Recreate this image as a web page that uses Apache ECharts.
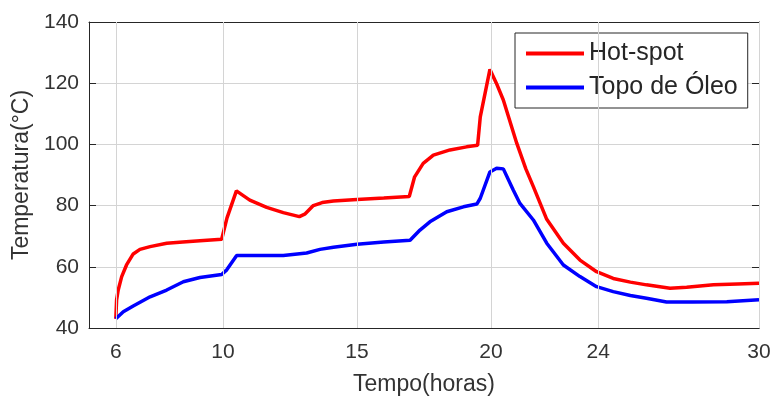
<!DOCTYPE html>
<html>
<head>
<meta charset="utf-8">
<script src="https://cdn.jsdelivr.net/npm/echarts@6/dist/echarts.min.js"></script>
<style>
  html, body { margin: 0; padding: 0; background: #fff; }
  #chart { width: 772px; height: 396px; }
</style>
</head>
<body>
<div id="chart"></div>
<script>
// Hot-spot temperature (°C) against time of day (hours)
const hotSpotHours = [6.0, 6.03, 6.09, 6.22, 6.4, 6.65, 6.9, 7.28, 7.9, 8.5, 9.14, 9.95, 10.15, 10.5,
  11.0, 11.63, 12.25, 12.85, 13.05, 13.37, 13.7, 14.12, 15.0, 16.0, 16.95, 17.15, 17.47, 17.85,
  18.47, 19.09, 19.5, 19.6, 19.96, 20.2, 20.46, 20.96, 21.3, 21.58, 22.08, 22.7, 23.32, 23.94,
  24.56, 25.2, 25.8, 26.68, 27.3, 28.3, 29.2, 30.0];
const hotSpotTemp = [43, 49.2, 52.4, 56.8, 60.6, 64.2, 65.7, 66.6, 67.7, 68.1, 68.5, 69.0, 76, 84.8,
  81.8, 79.4, 77.7, 76.4, 77.2, 80.0, 81.0, 81.5, 82.0, 82.5, 83.0, 89.4, 93.8, 96.5,
  98.2, 99.2, 99.7, 109, 124.5, 120, 114.5, 100.4, 92, 86.2, 75.5, 67.7, 62.2, 58.4,
  56.2, 55.0, 54.1, 53.0, 53.3, 54.1, 54.4, 54.6];

// Top-oil temperature (°C) against time of day (hours)
const oilHours = [6.0, 6.28, 6.65, 7.28, 7.9, 8.52, 9.14, 9.95, 10.14, 10.51, 12.25, 13.12, 13.62,
  14.12, 15.0, 16.0, 16.98, 17.35, 17.72, 18.35, 18.97, 19.47, 19.6, 19.96, 20.21, 20.46, 20.83,
  21.08, 21.58, 22.08, 22.7, 23.32, 23.94, 24.56, 25.2, 25.8, 26.55, 27.5, 28.8, 30.0];
const oilTemp = [43, 45.3, 47.2, 50.2, 52.4, 55.1, 56.5, 57.5, 59, 63.7, 63.7, 64.5, 65.7,
  66.4, 67.4, 68.1, 68.7, 72, 74.7, 78, 79.6, 80.5, 82.4, 91, 92.2, 92, 85.1,
  80.7, 75.3, 67.7, 60.6, 56.8, 53.5, 51.9, 50.6, 49.7, 48.5, 48.5, 48.6, 49.2];

// Axis ticks
const hourTicks = [6, 10, 15, 20, 24, 30];
const seriesNames = ['Hot-spot', 'Topo de Óleo'];

const FONT = '"Liberation Sans", Arial, Helvetica, sans-serif';
const TEXT = '#333333';
const AXIS = '#262626';
const GRID = '#d4d4d4';

const zip = (xs, ys) => xs.map((x, i) => [x, ys[i]]);

const chart = echarts.init(document.getElementById('chart'), null, { renderer: 'canvas' });

chart.setOption({
  animation: false,
  backgroundColor: '#ffffff',
  grid: { left: 89, top: 22, right: 13, bottom: 68, containLabel: false, outerBoundsMode: 'none' },
  legend: {
    data: seriesNames.map(n => ({ name: n, icon: 'rect' })),
    orient: 'vertical',
    left: 515,
    top: 33,
    padding: [8, 10, 8, 11],
    itemGap: 9,
    itemWidth: 58,
    itemHeight: 4,
    backgroundColor: '#ffffff',
    borderColor: AXIS,
    borderWidth: 1,
    textStyle: { fontFamily: FONT, fontSize: 25, color: '#262626', lineHeight: 25 }
  },
  xAxis: [
    {
      type: 'value',
      min: 5, max: 30,
      position: 'bottom',
      name: 'Tempo(horas)',
      nameLocation: 'middle',
      nameGap: 45,
      nameTextStyle: { fontFamily: FONT, fontSize: 23, color: TEXT },
      axisLine: { show: true, lineStyle: { color: AXIS, width: 1 } },
      axisTick: { show: true, inside: true, length: 7, customValues: hourTicks, lineStyle: { color: AXIS } },
      axisLabel: { customValues: hourTicks, fontFamily: FONT, fontSize: 21, color: TEXT, margin: 14 },
      splitLine: { show: false }
    },
    {
      type: 'value',
      min: 5, max: 30,
      position: 'top',
      axisLine: { show: true, onZero: false, lineStyle: { color: AXIS, width: 1 } },
      axisTick: { show: true, inside: true, length: 7, customValues: hourTicks, lineStyle: { color: AXIS } },
      axisLabel: { show: false },
      splitLine: { show: false }
    }
  ],
  yAxis: [
    {
      type: 'value',
      min: 40, max: 140, interval: 20,
      position: 'left',
      name: 'Temperatura(°C)',
      nameLocation: 'middle',
      nameGap: 47,
      nameTextStyle: { fontFamily: FONT, fontSize: 23, color: TEXT },
      axisLine: { show: true, lineStyle: { color: AXIS, width: 1 } },
      axisTick: { show: true, inside: true, length: 7, lineStyle: { color: AXIS } },
      axisLabel: { fontFamily: FONT, fontSize: 21, color: TEXT, margin: 10 },
      splitLine: { show: true, lineStyle: { color: GRID, width: 1 } }
    },
    {
      type: 'value',
      min: 40, max: 140, interval: 20,
      position: 'right',
      axisLine: { show: true, onZero: false, lineStyle: { color: AXIS, width: 1 } },
      axisTick: { show: true, inside: true, length: 7, lineStyle: { color: AXIS } },
      axisLabel: { show: false },
      splitLine: { show: false }
    }
  ],
  series: [
    {
      // vertical grid lines at the hour ticks
      name: 'grid',
      type: 'line',
      data: [],
      z: 1,
      silent: true,
      markLine: {
        silent: true,
        symbol: ['none', 'none'],
        label: { show: false },
        lineStyle: { color: GRID, width: 1, type: 'solid' },
        data: hourTicks.map(h => ({ xAxis: h }))
      }
    },
    {
      name: seriesNames[0],
      type: 'line',
      z: 3,
      data: zip(hotSpotHours, hotSpotTemp),
      showSymbol: false,
      symbol: 'none',
      color: '#ff0000',
      lineStyle: { color: '#ff0000', width: 3.5 }
    },
    {
      name: seriesNames[1],
      type: 'line',
      z: 3,
      data: zip(oilHours, oilTemp),
      showSymbol: false,
      symbol: 'none',
      color: '#0000ff',
      lineStyle: { color: '#0000ff', width: 3.5 }
    }
  ]
});
</script>
</body>
</html>
